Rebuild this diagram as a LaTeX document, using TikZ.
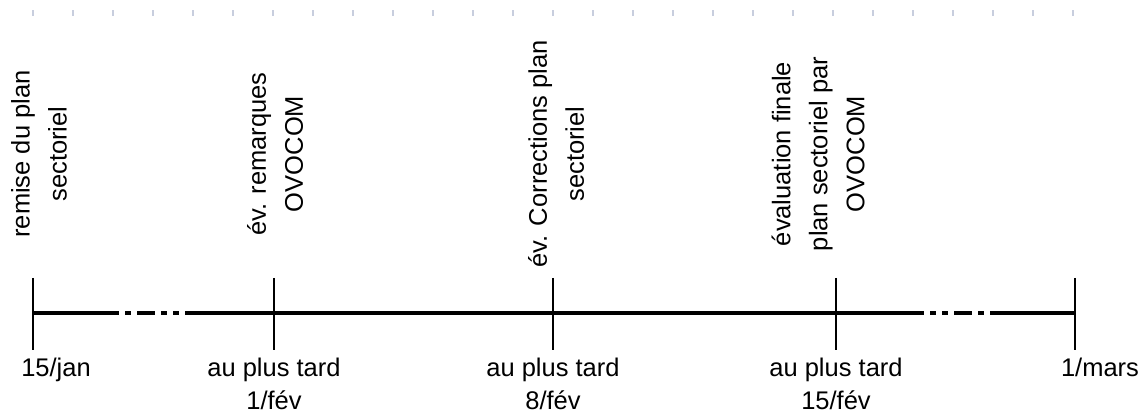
\documentclass[tikz,border=0pt]{standalone}
\usepackage{fontspec}
\setmainfont{Liberation Sans}
\definecolor{rulergray}{RGB}{200,206,222}
\begin{document}
\begin{tikzpicture}[x=1pt,y=1pt,
    event/.style={rotate=90,align=center,inner sep=0pt,font=\fontsize{25.5}{37}\selectfont},
    date/.style={anchor=north,align=center,inner sep=0pt,font=\fontsize{25.5}{33}\selectfont},
    markline/.style={line width=1.8pt},
    axisline/.style={line width=3.5pt}]
  \useasboundingbox (0,0) rectangle (1147,414);
  % ruler marks along the top
  \foreach \i in {0,...,26}
    \draw [line width=1.4pt, rulergray] (33+40*\i,398) -- (33+40*\i,404);
  % points on the time axis
  \coordinate (jan15) at (33,101);
  \coordinate (fev1)  at (274,101);
  \coordinate (fev8)  at (553,101);
  \coordinate (fev15) at (836,101);
  \coordinate (mar1)  at (1075,101);
  \coordinate (gapa)  at (119,101);
  \coordinate (gapb)  at (185,101);
  \coordinate (gapc)  at (924,101);
  \coordinate (gapd)  at (990,101);
  % axis
  \draw [axisline] (jan15) -- (gapa);
  \draw [axisline, dash pattern=on 0pt off 6pt on 6pt off 6pt on 18pt off 6pt on 6pt off 6pt on 6pt off 6pt] (gapa) -- (gapb);
  \draw [axisline] (gapb) -- (gapc);
  \draw [axisline, dash pattern=on 0pt off 6pt on 6pt off 6pt on 6pt off 6pt on 18pt off 6pt on 6pt off 6pt] (gapc) -- (gapd);
  \draw [axisline] (gapd) -- (mar1);
  % marks
  \foreach \p in {jan15,fev1,fev8,fev15,mar1}
    \draw [markline] ([yshift=35pt]\p) -- ([yshift=-37pt]\p);
  % events
  \node (remise) [event] at (39,260) {remise du plan\\sectoriel};
  \node (remarques) [event] at (275,260) {év. remarques\\OVOCOM};
  \node (corrections) [event] at (556,260) {év. Corrections plan\\sectoriel};
  \node (finale) [event] at (818,260) {évaluation finale\\plan sectoriel par\\OVOCOM};
  % dates
  \node (djan15) [date] at (56,56) {15/jan};
  \node (dfev1) [date] at (274,56) {au plus tard\\1/fév};
  \node (dfev8) [date] at (553,56) {au plus tard\\8/fév};
  \node (dfev15) [date] at (836,56) {au plus tard\\15/fév};
  \node (dmar1) [date] at (1100,56) {1/mars};
\end{tikzpicture}
\end{document}
